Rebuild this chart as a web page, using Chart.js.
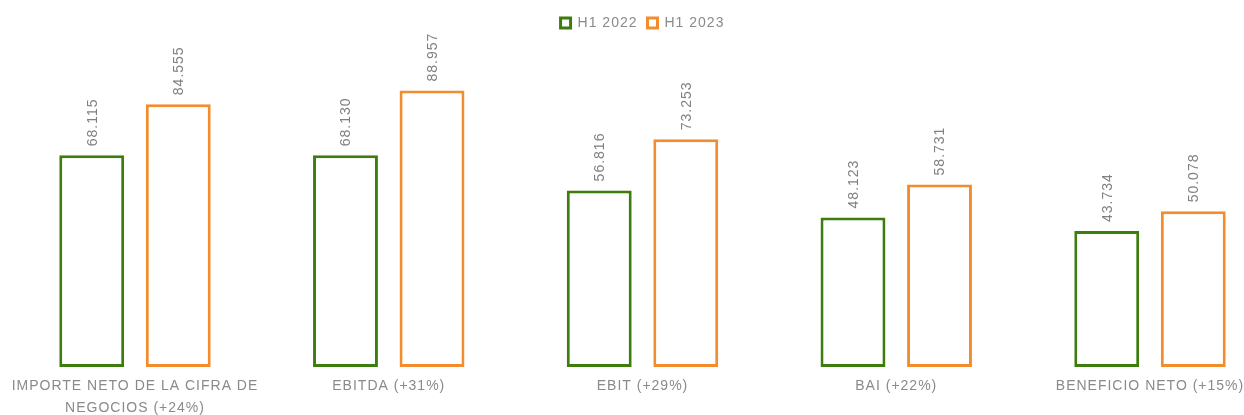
<!DOCTYPE html>
<html>
<head>
<meta charset="utf-8">
<script src="https://cdn.jsdelivr.net/npm/chart.js@4.4.1/dist/chart.umd.min.js"></script>
<style>
  html, body { margin: 0; padding: 0; background: #fff; overflow: hidden; }
</style>
</head>
<body>
<canvas id="myChart" width="1244" height="415"></canvas>
<script>
const categories = [
  ['IMPORTE NETO DE LA CIFRA DE', 'NEGOCIOS (+24%)'],
  'EBITDA (+31%)',
  'EBIT (+29%)',
  'BAI (+22%)',
  'BENEFICIO NETO (+15%)'
];
const h1_2022 = [68115, 68130, 56816, 48123, 43734];
const h1_2023 = [84555, 88957, 73253, 58731, 50078];

const green = '#3c7d0e';
const orange = '#f28c2c';
const grey = '#8a8a8a';

const fmt = (v) => String(v).replace(/\B(?=(\d{3})+(?!\d))/g, '.');

// excel-ish wide text
const spacing = {
  id: 'spacing',
  beforeLayout(chart) { chart.ctx.letterSpacing = '1px'; },
  beforeDraw(chart) { chart.ctx.letterSpacing = '1px'; }
};

// rotated value labels above the bars
const valueLabels = {
  id: 'valueLabels',
  afterDatasetsDraw(chart) {
    const ctx = chart.ctx;
    chart.data.datasets.forEach((ds, i) => {
      const meta = chart.getDatasetMeta(i);
      meta.data.forEach((bar, j) => {
        ctx.save();
        ctx.letterSpacing = '1px';
        ctx.translate(bar.x + 1, bar.y - 9);
        ctx.rotate(-Math.PI / 2);
        ctx.font = '14px "Liberation Sans", Arial, sans-serif';
        ctx.fillStyle = '#808080';
        ctx.textAlign = 'left';
        ctx.textBaseline = 'middle';
        ctx.fillText(fmt(ds.data[j]), 0, 0);
        ctx.restore();
      });
    });
  }
};

const ctx = document.getElementById('myChart');

new Chart(ctx, {
  type: 'bar',
  data: {
    labels: categories,
    datasets: [
      {
        label: 'H1 2022',
        data: h1_2022,
        backgroundColor: '#ffffff',
        borderColor: green,
        borderWidth: 3,
        borderSkipped: false,
        clip: false
      },
      {
        label: 'H1 2023',
        data: h1_2023,
        backgroundColor: '#ffffff',
        borderColor: orange,
        borderWidth: 3,
        borderSkipped: false,
        clip: false
      }
    ]
  },
  options: {
    responsive: false,
    animation: false,
    devicePixelRatio: 1,
    categoryPercentage: 0.682,
    barPercentage: 0.75,
    layout: {
      padding: { left: 135, right: 94, top: 6, bottom: 0 }
    },
    plugins: {
      legend: {
        position: 'top',
        labels: {
          boxWidth: 10,
          boxHeight: 10,
          color: grey,
          font: { family: '"Liberation Sans", Arial, sans-serif', size: 14 }
        }
      },
      tooltip: { enabled: false }
    },
    scales: {
      x: {
        offset: false,
        grid: { display: false, drawTicks: false, tickLength: 0 },
        border: { display: false },
        ticks: {
          autoSkip: false,
          maxRotation: 0,
          minRotation: 0,
          padding: 8,
          color: grey,
          font: { family: '"Liberation Sans", Arial, sans-serif', size: 14, lineHeight: '22px' }
        },
        afterFit(scale) {
          // labels may hang past the plot edges, the padding handles it
          scale.paddingLeft = 0;
          scale.paddingRight = 0;
          scale.height = 48;
        }
      },
      y: {
        display: false,
        min: 0,
        max: 105200
      }
    }
  },
  plugins: [spacing, valueLabels]
});
</script>
</body>
</html>
